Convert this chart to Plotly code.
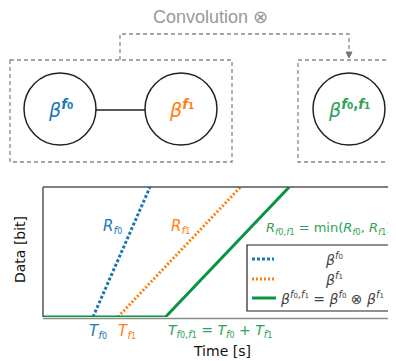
import plotly.graph_objects as go

# page body has an 8px margin: figure is drawn from (8, 8) in the window
OFF = 8
W, H = 396 - OFF, 361 - OFF

# ---- data (time units, data units) ----
T_f0, T_f1 = 2.0, 3.0
T_f0f1 = 4.9
blue_t = [T_f0, 4.28]
blue_d = [0.0, 10.0]
orange_t = [T_f1, 7.9]
orange_d = [0.0, 10.0]
green_t = [0.0, T_f0f1, 9.85]
green_d = [0.0, 0.0, 10.0]

BLUE = "#1f77b4"
ORANGE = "#ff7f0e"
GREEN = "#0a9444"
GREEN_T = "#2ca25a"
GRAY = "#8c8c8c"

# chart area in window pixels
X0 = 43
Y_TOP, Y_BOT = 187, 317
PX_PER_T = 25.0


def px(x):
    return (x - OFF) / W


def py(y):
    return 1 - (y - OFF) / H


fig = go.Figure()
fig.add_trace(go.Scatter(x=blue_t, y=blue_d, mode="lines",
                         line=dict(color=BLUE, width=3, dash="3px,2px"),
                         showlegend=False, cliponaxis=False))
fig.add_trace(go.Scatter(x=orange_t, y=orange_d, mode="lines",
                         line=dict(color=ORANGE, width=3, dash="2px,2px"),
                         showlegend=False, cliponaxis=False))
fig.add_trace(go.Scatter(x=green_t, y=green_d, mode="lines",
                         line=dict(color=GREEN, width=3),
                         showlegend=False, cliponaxis=False))

shapes = []
annos = []

# chart frame (left, top, bottom)
line_frame = dict(color="#555", width=1.5)
shapes.append(dict(type="line", xref="paper", yref="paper", x0=px(X0), x1=px(X0),
                   y0=py(Y_TOP), y1=py(Y_BOT), line=line_frame))
shapes.append(dict(type="line", xref="paper", yref="paper", x0=px(X0), x1=1.01,
                   y0=py(Y_TOP), y1=py(Y_TOP), line=line_frame))
shapes.append(dict(type="line", xref="paper", yref="paper", x0=px(X0), x1=1.01,
                   y0=py(Y_BOT + 1.5), y1=py(Y_BOT + 1.5), line=dict(color=GRAY, width=1.5),
                   layer="below"))

# ---- diagram ----
dash_line = dict(color="#888", width=1.3, dash="4px,3px")
shapes.append(dict(type="rect", xref="paper", yref="paper", x0=px(10), x1=px(232),
                   y0=py(60), y1=py(162), line=dash_line))
shapes.append(dict(type="rect", xref="paper", yref="paper", x0=px(298), x1=px(420),
                   y0=py(60), y1=py(162), line=dash_line))
shapes.append(dict(type="path", xref="paper", yref="paper",
                   path=f"M {px(120)},{py(60)} L {px(120)},{py(34)} L {px(349)},{py(34)} L {px(349)},{py(53)}",
                   line=dash_line))
shapes.append(dict(type="path", xref="paper", yref="paper",
                   path=f"M {px(346)},{py(52)} L {px(352)},{py(52)} L {px(349)},{py(58)} Z",
                   fillcolor="#777", line=dict(color="#777", width=1)))
R = 36
for cx in (60, 181, 349):
    shapes.append(dict(type="circle", xref="paper", yref="paper",
                       x0=px(cx - R), x1=px(cx + R), y0=py(109 - R), y1=py(109 + R),
                       line=dict(color="#222", width=1.5)))
shapes.append(dict(type="line", xref="paper", yref="paper", x0=px(96), x1=px(145),
                   y0=py(110), y1=py(110), line=dict(color="#222", width=1.5)))


def ann(x, y, text, color, size=14, family="DejaVu Sans", **kw):
    d = dict(xref="paper", yref="paper", x=px(x), y=py(y), text=text, showarrow=False,
             font=dict(color=color, size=size, family=family),
             xanchor="center", yanchor="middle")
    d.update(kw)
    annos.append(d)


def f(n, s=8):
    return f"<i>f</i><span style='font-size:{s}px'>{n}</span>"


ann(210, 17, "Convolution ⊗", "#999", size=18, family="Liberation Sans")
ann(60, 109, f"<i>β</i><sup><b>{f(0, 9)}</b></sup>", BLUE, size=19)
ann(181, 109, f"<i>β</i><sup><b>{f(1, 9)}</b></sup>", ORANGE, size=19)
ann(349, 109, f"<i>β</i><sup><b>{f(0, 9)},{f(1, 9)}</b></sup>", GREEN_T, size=19)

# chart labels
ann(112, 226, f"<i>R</i><sub>{f(0)}</sub>", BLUE, size=15)
ann(180, 226, f"<i>R</i><sub>{f(1)}</sub>", ORANGE, size=15)
ann(393, 228, f"<i>R</i><sub>{f(0)},{f(1)}</sub> = min(<i>R</i><sub>{f(0)}</sub>, <i>R</i><sub>{f(1)}</sub>)",
    GREEN_T, size=13, xanchor="right")
ann(98, 331, f"<i>T</i><sub>{f(0)}</sub>", BLUE, size=15)
ann(127, 331, f"<i>T</i><sub>{f(1)}</sub>", ORANGE, size=15)
ann(166, 331, f"<i>T</i><sub>{f(0)},{f(1)}</sub> = <i>T</i><sub>{f(0)}</sub> + <i>T</i><sub>{f(1)}</sub>",
    GREEN_T, size=14, xanchor="left")
ann(222, 351, "Time [s]", "#111", size=14)
ann(20, 250, "Data [bit]", "#111", size=14, textangle=-90)

# legend
shapes.append(dict(type="rect", xref="paper", yref="paper", x0=px(247), x1=px(389),
                   y0=py(245), y1=py(311), line=dict(color="#222", width=1.2),
                   fillcolor="white"))
shapes.append(dict(type="line", xref="paper", yref="paper", x0=px(252), x1=px(274),
                   y0=py(259), y1=py(259), line=dict(color=BLUE, width=3, dash="3px,2px")))
shapes.append(dict(type="line", xref="paper", yref="paper", x0=px(252), x1=px(274),
                   y0=py(279), y1=py(279), line=dict(color=ORANGE, width=3, dash="2px,2px")))
shapes.append(dict(type="line", xref="paper", yref="paper", x0=px(252), x1=px(276),
                   y0=py(298), y1=py(298), line=dict(color=GREEN, width=3)))
ann(334, 259, f"<i>β</i><sup>{f(0, 7)}</sup>", "#444", size=14)
ann(334, 279, f"<i>β</i><sup>{f(1, 7)}</sup>", "#444", size=14)
ann(332, 298, f"<i>β</i><sup>{f(0, 7)},{f(1, 7)}</sup> = <i>β</i><sup>{f(0, 7)}</sup> ⊗ <i>β</i><sup>{f(1, 7)}</sup>",
    "#444", size=14)

fig.update_layout(
    width=W, height=H, margin=dict(l=0, r=0, t=0, b=0),
    paper_bgcolor="white", plot_bgcolor="rgba(0,0,0,0)",
    shapes=shapes, annotations=annos, showlegend=False,
    xaxis=dict(domain=[px(X0), 1], range=[0, (W + OFF - X0) / PX_PER_T], visible=False, fixedrange=True),
    yaxis=dict(domain=[py(Y_BOT), py(Y_TOP)], range=[0, 10], visible=False, fixedrange=True),
)
fig.write_html("out.html")
